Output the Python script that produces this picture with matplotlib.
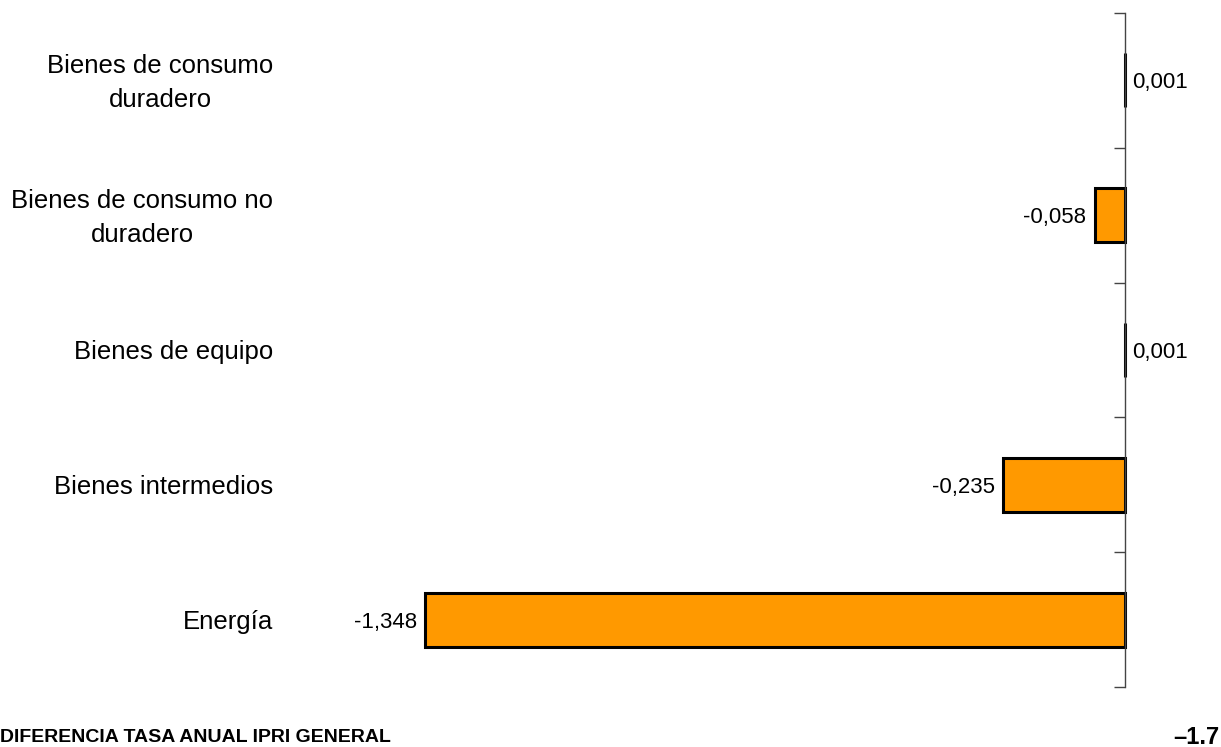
import matplotlib.pyplot as plt
import matplotlib.transforms as mtransforms
import numpy as np

plt.rcParams['font.family'] = ['Liberation Sans', 'DejaVu Sans']

# Datos
categorias = ["Bienes de consumo\nduradero", "Bienes de consumo no\nduradero",
              "Bienes de equipo", "Bienes intermedios", "Energía"]
valores = [0.001, -0.058, 0.001, -0.235, -1.348]
total = "–1.7"

fig = plt.figure(figsize=(12.21, 7.47), dpi=100)
ax = fig.add_axes([290 / 1221, 60 / 747, 920 / 1221, 674 / 747])

y = np.arange(len(categorias))
bars = ax.barh(y, valores, height=0.4, color="#FF9900", edgecolor="black", linewidth=2.2)

ax.set_xlim(-1.608, 0.164)
ax.set_ylim(len(categorias) - 0.5, -0.5)

# Eje vertical en cero
for s in ["top", "bottom", "left"]:
    ax.spines[s].set_visible(False)
ax.spines["right"].set_position(("data", 0))
ax.spines["right"].set_color("#444444")
ax.spines["right"].set_linewidth(1.0)

ax.set_xticks([])
ax.set_yticks(y)
ax.set_yticklabels(categorias, fontsize=18.5, multialignment="center", linespacing=1.55)
ax.tick_params(axis="y", which="major", length=0, pad=12, left=False, right=False)
ax.set_yticks(np.arange(-0.5, len(categorias), 1), minor=True)
ax.tick_params(axis="y", which="minor", left=False, right=True, direction="in",
               length=8, width=1.0, color="#444444")

# subir un poco las etiquetas de dos lineas
desplaza = mtransforms.ScaledTranslation(0, 5 / 100, fig.dpi_scale_trans)
for lab in ax.get_yticklabels():
    if "\n" in lab.get_text():
        lab.set_transform(lab.get_transform() + desplaza)

# Etiquetas de valor
for bar, v in zip(bars, valores):
    texto = f"{v:.3f}".replace(".", ",")
    yc = bar.get_y() + bar.get_height() / 2
    if v >= 0:
        ax.annotate(texto, (v, yc), xytext=(5, 0), textcoords="offset points",
                    ha="left", va="center_baseline", fontsize=16)
    else:
        ax.annotate(texto, (v, yc), xytext=(-6, 0), textcoords="offset points",
                    ha="right", va="center_baseline", fontsize=16)

fig.text(0, 10 / 747, "DIFERENCIA TASA ANUAL IPRI GENERAL",
         fontsize=14, fontweight="bold", ha="left", va="center")
fig.text(1219 / 1221, 10 / 747, total, fontsize=17, fontweight="bold",
         ha="right", va="center")

plt.savefig("out.png", dpi=100)
plt.close()
